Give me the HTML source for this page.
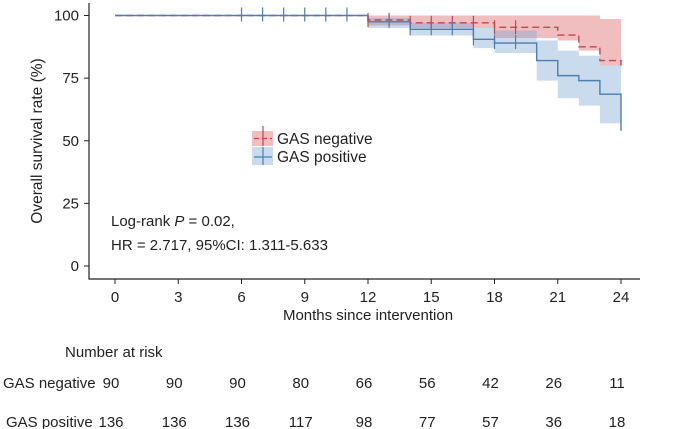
<!DOCTYPE html>
<html><head><meta charset="utf-8"><style>
html,body{margin:0;padding:0;background:#fff}
svg{display:block}
text{font-family:"Liberation Sans",sans-serif;fill:#222}
</style></head><body>
<svg id="chart" width="674" height="429" viewBox="0 0 674 429" xmlns="http://www.w3.org/2000/svg">
<g id="bands"></g><g id="lines"></g><g id="axes"></g><g id="labels"></g>
</svg>
<script>
// data
const xTicks=[0,3,6,9,12,15,18,21,24];
const yTicks=[0,25,50,75,100];
const negTimes=[0,12,14,18,21,22,23,24];
const negSurv=[100,98.2,97.1,95.3,92.2,87.5,82,80];
const negUpper=[100,100,100,100,100,100,98.6,98.6];
const negLower=[100,96,95,91,90,86,80,68];
const posTimes=[0,12,14,17,18,20,21,22,23,24];
const posSurv=[100,97.5,94.5,90.5,89,82,76,74,68.6,54];
const posUpper=[100,99,97,95,94,90,86,84,80,80];
const posLower=[100,95,92,87,85,74,67,64,57,57];
const negCensor=[12,13,14,15,16,17,18,19];
const posCensor=[6,7,8,9,10,11,13,14,15,16,17,18,19];
const riskNeg=[90,90,90,80,66,56,42,26,11];
const riskPos=[136,136,136,117,98,77,57,36,18];

const NS='http://www.w3.org/2000/svg';
const X=m=>115+m*(506/24);
const Y=v=>266-v*2.505;
function mk(tag,attrs,parent){const e=document.createElementNS(NS,tag);for(const k in attrs)e.setAttribute(k,attrs[k]);parent.appendChild(e);return e;}
function stepPath(t,v){let d='M'+X(t[0])+','+Y(v[0]);for(let i=1;i<t.length;i++){d+=' H'+X(t[i])+' V'+Y(v[i]);}return d;}
function bandPath(t,u,l){const n=t.length;let d='M'+X(t[0])+','+Y(u[0]);for(let i=1;i<n;i++){d+=' H'+X(t[i])+' V'+Y(u[i]);}
 d+=' V'+Y(l[n-1]);for(let i=n-1;i>0;i--){d+=' H'+X(t[i])+' V'+Y(l[i-1]);}d+=' H'+X(t[0])+' Z';return d;}
const bands=document.getElementById('bands'),lines=document.getElementById('lines'),axes=document.getElementById('axes'),labels=document.getElementById('labels');

let b=mk('path',{d:bandPath(negTimes,negUpper,negLower),fill:'rgba(225,110,115,0.45)'},bands);


b=mk('path',{d:bandPath(posTimes,posUpper,posLower),fill:'rgba(120,165,210,0.4)'},bands);



let l=mk('path',{d:stepPath(negTimes,negSurv),fill:'none',stroke:'#c0464f','stroke-width':1.4,'stroke-dasharray':'7,4'},lines);


l=mk('path',{d:stepPath(posTimes,posSurv),fill:'none',stroke:'#4a7fb0','stroke-width':1.4},lines);


function survAt(t,v,m){let s=v[0];for(let i=0;i<t.length;i++){if(t[i]<=m)s=v[i];}return s;}
negCensor.forEach(m=>{const c=mk('line',{x1:X(m),x2:X(m),y1:Y(survAt(negTimes,negSurv,m))-7,y2:Y(survAt(negTimes,negSurv,m))+7,stroke:'#c0464f','stroke-width':1.2},lines);

});
posCensor.forEach(m=>{const c=mk('line',{x1:X(m),x2:X(m),y1:Y(survAt(posTimes,posSurv,m))-8,y2:Y(survAt(posTimes,posSurv,m))+6,stroke:'#4a7fb0','stroke-width':1.2},lines);

});

let a=mk('path',{d:'M89,3 V279 H640',fill:'none',stroke:'#222','stroke-width':1.2},axes);


xTicks.forEach((t,i)=>{const k=mk('line',{x1:X(t),x2:X(t),y1:279,y2:284,stroke:'#222'},axes);


const tx=mk('text',{x:X(t),y:302,'text-anchor':'middle','font-size':15},labels);tx.textContent=t;


const r1=mk('text',{x:X(t)-4,y:388,'text-anchor':'middle','font-size':15},labels);r1.textContent=riskNeg[i];


const r2=mk('text',{x:X(t)-4,y:427,'text-anchor':'middle','font-size':15},labels);r2.textContent=riskPos[i];

});
yTicks.forEach(t=>{const k=mk('line',{x1:84,x2:89,y1:Y(t),y2:Y(t),stroke:'#222'},axes);


const tx=mk('text',{x:79,y:Y(t)+5,'text-anchor':'end','font-size':15},labels);tx.textContent=t;

});
</script>
<svg width="674" height="429" style="position:absolute;left:0;top:0" xmlns="http://www.w3.org/2000/svg">
<text x="42" y="141" font-size="15.5" text-anchor="middle" transform="rotate(-90 42 141)">Overall survival rate (%)</text>
<text x="368" y="320" font-size="15" text-anchor="middle">Months since intervention</text>
<text x="65" y="357" font-size="15">Number at risk</text>
<text x="3" y="388" font-size="15">GAS negative</text>
<text x="6" y="427" font-size="15">GAS positive</text>
<text x="111" y="226" font-size="15">Log-rank <tspan font-style="italic">P</tspan> = 0.02,</text>
<text x="111" y="250" font-size="15">HR = 2.717, 95%CI: 1.311-5.633</text>
<g>
<rect x="252" y="131" width="21" height="15" fill="rgba(225,110,115,0.45)"/>
<line x1="254" y1="138.5" x2="272" y2="138.5" stroke="#c0464f" stroke-width="1.3" stroke-dasharray="5,3"/>
<line x1="263" y1="126" x2="263" y2="146" stroke="#c0464f" stroke-width="1.2"/>
<rect x="252" y="147" width="21" height="18" fill="rgba(120,165,210,0.4)"/>
<line x1="254" y1="157" x2="272" y2="157" stroke="#4a7fb0" stroke-width="1.3"/>
<line x1="263" y1="147" x2="263" y2="165" stroke="#4a7fb0" stroke-width="1.2"/>
<text x="277" y="144" font-size="15.5">GAS negative</text>
<text x="277" y="162" font-size="15.5">GAS positive</text>
</g>
</svg>
</body></html>
